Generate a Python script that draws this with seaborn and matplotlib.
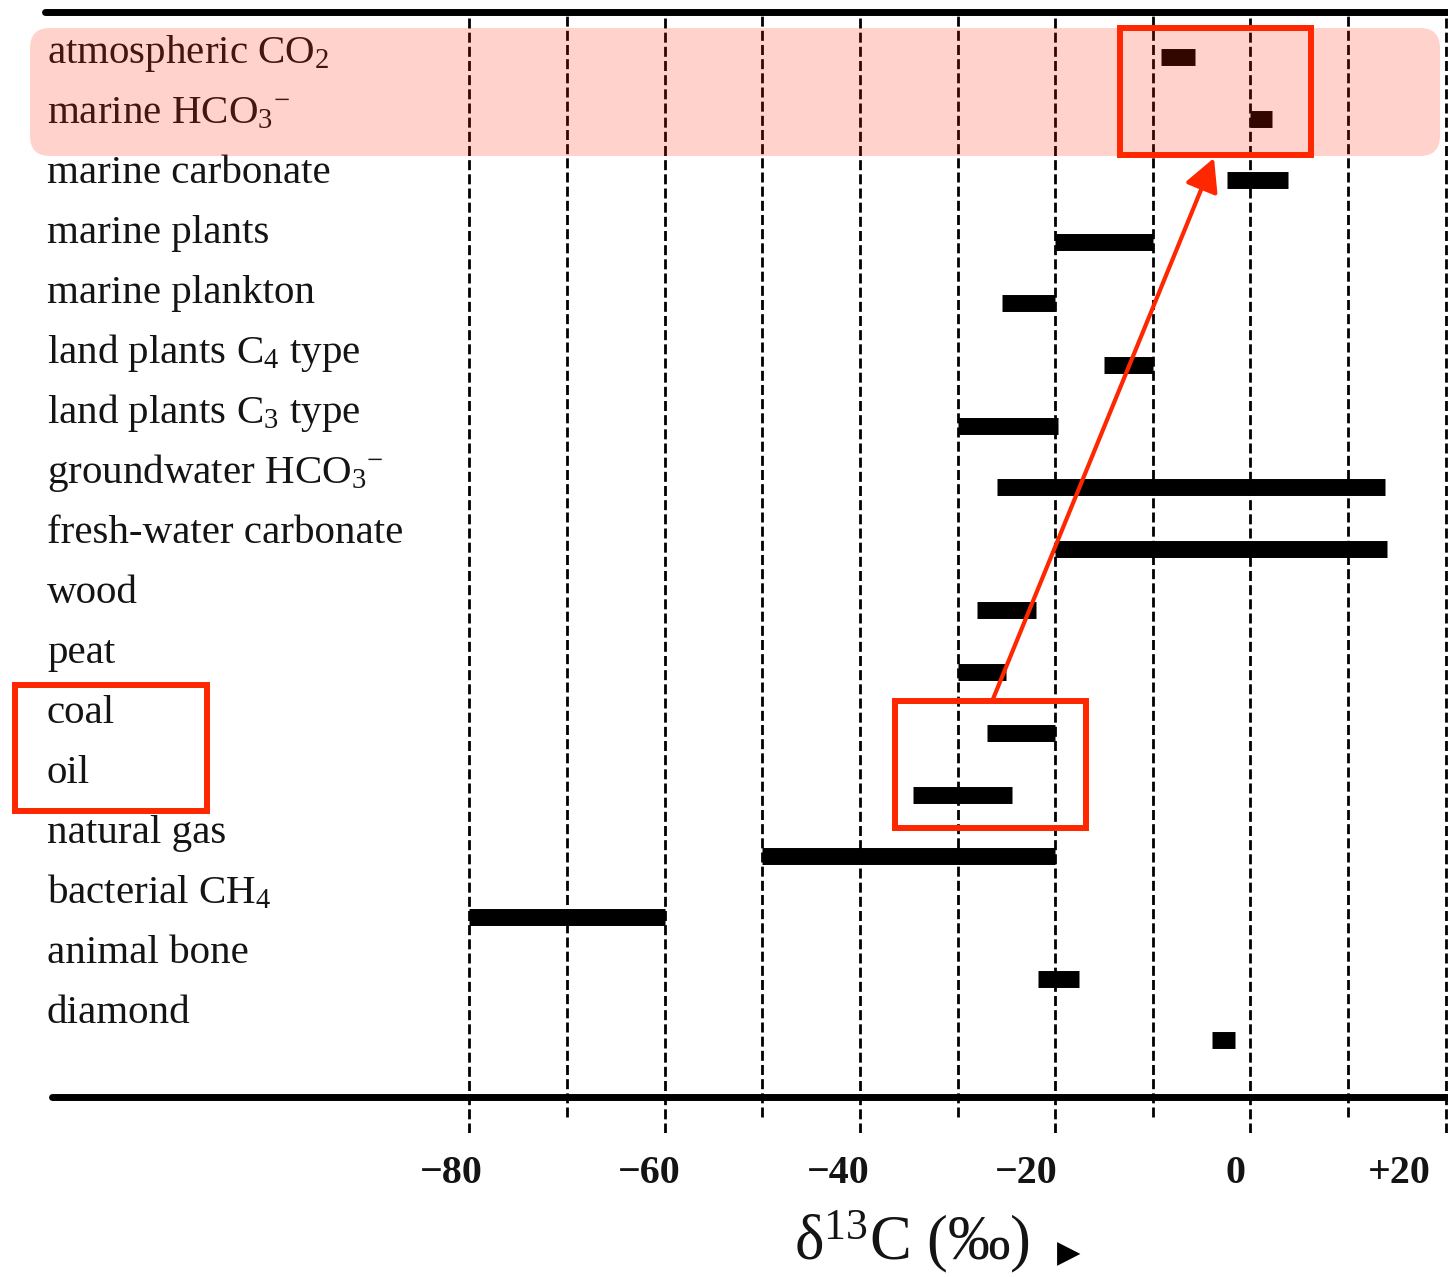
import numpy as np
import pandas as pd
import matplotlib
matplotlib.use("Agg")
import matplotlib.pyplot as plt
import matplotlib.transforms as mtransforms
from matplotlib.patches import FancyBboxPatch, Rectangle, FancyArrowPatch
from matplotlib.lines import Line2D
import seaborn as sns

# ---------------- data ----------------
categories = [
    "atmospheric CO$_\\mathrm{2}$",
    "marine HCO$_\\mathrm{3}$$^{\\mathrm{-}}$",
    "marine carbonate",
    "marine plants",
    "marine plankton",
    "land plants C$_\\mathrm{4}$ type",
    "land plants C$_\\mathrm{3}$ type",
    "groundwater HCO$_\\mathrm{3}$$^{\\mathrm{-}}$",
    "fresh-water carbonate",
    "wood",
    "peat",
    "coal",
    "oil",
    "natural gas",
    "bacterial CH$_\\mathrm{4}$",
    "animal bone",
    "diamond",
]
d13c_low = [-9.2, 0.0, -2.4, -20.0, -25.4, -15.0, -30.0, -26.0, -20.0,
            -28.0, -30.0, -27.0, -34.6, -50.0, -80.0, -21.8, -3.9]
d13c_high = [-5.7, 2.2, 3.9, -10.0, -20.0, -10.0, -19.7, 13.8, 14.0,
             -22.0, -25.0, -20.0, -24.4, -20.0, -60.0, -17.6, -1.6]

tick_values = [-80, -60, -40, -20, 0, 20]
tick_labels = ["\u221280", "\u221260", "\u221240", "\u221220", "0", "+20"]
major_grid = [-80, -60, -40, -20, 0, 20]
minor_grid = [-70, -50, -30, -10, 10]
x_label = "\u03b4$^{\\mathrm{13}}$C (\u2030)"

# ---------------- style ----------------
W, H, DPI = 1448, 1277, 100
sns.set_theme(style="white")
plt.rcParams["font.family"] = ["Liberation Serif", "DejaVu Sans"]
plt.rcParams["mathtext.fontset"] = "custom"
plt.rcParams["mathtext.rm"] = "Liberation Serif"
plt.rcParams["mathtext.it"] = "Liberation Serif:italic"
plt.rcParams["mathtext.bf"] = "Liberation Serif:bold"

RED = "#ff2700"
TXT = "#141414"

fig = plt.figure(figsize=(W / DPI, H / DPI), dpi=DPI)
fig.patch.set_facecolor("white")


def P(px, py):
    """top-left pixel -> inches for fig.dpi_scale_trans"""
    return (px / DPI, (H - py) / DPI)


AX_TOP, AX_BOT = 12, 1133
ax = fig.add_axes([0, 1 - AX_BOT / H, 1, (AX_BOT - AX_TOP) / H])
ax.set_facecolor("white")

# long-form table for the range bars
rows = np.arange(len(categories))
df = pd.DataFrame({
    "item": np.repeat(categories, 2),
    "row": np.repeat(rows, 2),
    "d13C": np.column_stack([d13c_low, d13c_high]).ravel(),
})

# dashed reference lines
minor_ymin = (AX_BOT - 1117) / (AX_BOT - AX_TOP)
dash = (0, (3.6, 1.5))
for v in major_grid:
    ax.axvline(v, ymin=0, ymax=1, color="black", lw=2.0, linestyle=dash, zorder=1)
for v in minor_grid:
    ax.axvline(v, ymin=minor_ymin, ymax=1, color="black", lw=2.0, linestyle=dash, zorder=1)

sns.lineplot(data=df, x="d13C", y="row", units="item", estimator=None,
             sort=False, color="black", lw=12.2, solid_capstyle="butt",
             legend=False, ax=ax, zorder=3)

# scales: x px = 1250.4 + 9.763 v ; bar row y px = 57.5 + 61.42 i
ax.set_xlim(-1250.4 / 9.763, (W - 1250.4) / 9.763)
ax.set_ylim((AX_BOT - 57.5) / 61.42, (AX_TOP - 57.5) / 61.42)
ax.set_xlabel("")
ax.set_ylabel("")
ax.set_yticks([])
for s in ax.spines.values():
    s.set_visible(False)
ax.grid(False)

ax.set_xticks(tick_values)
ax.set_xticklabels(tick_labels, fontsize=28.8, fontweight="bold", color=TXT)
ax.tick_params(axis="x", length=0, pad=16)
label_shift_px = [-18, -15, -22, -29, -15, -46]
for lab, sh in zip(ax.get_xticklabels(), label_shift_px):
    lab.set_transform(lab.get_transform() +
                      mtransforms.ScaledTranslation(sh / DPI, 0, fig.dpi_scale_trans))

# top and bottom rules
fig.add_artist(Line2D([45 / W, 1], [1 - 11.5 / H] * 2, lw=5.0, color="black",
                      transform=fig.transFigure, zorder=4))
fig.add_artist(Line2D([52 / W, 1], [1 - 1097 / H] * 2, lw=5.0, color="black",
                      transform=fig.transFigure, zorder=4))

# category labels
for i, name in enumerate(categories):
    fig.text(47 / W, 1 - (63 + 60 * i) / H, name, fontsize=29.5,
             ha="left", va="baseline", color=TXT, zorder=5)

# axis title
fig.text(912 / W, 1 - 1259 / H, x_label, fontsize=45, ha="center",
         va="baseline", color=TXT)
fig.text(1057 / W, 1 - 1262 / H, "\u25B6", fontsize=22, ha="left",
         va="baseline", color="black", family="DejaVu Sans")

# highlight band
x0, y0 = P(30, 156)
band = FancyBboxPatch((x0, y0), (1440 - 30) / DPI, (156 - 28) / DPI,
                      boxstyle="round,pad=0,rounding_size=0.2",
                      transform=fig.dpi_scale_trans, facecolor=RED,
                      edgecolor="none", alpha=0.2, zorder=10)
fig.add_artist(band)

# red frames
for (l, t, r, b) in [(1120, 28, 1311, 155), (15, 685, 207, 811), (895, 701, 1086, 828)]:
    xx, yy = P(l, b)
    fig.add_artist(Rectangle((xx, yy), (r - l) / DPI, (b - t) / DPI, fill=False,
                             edgecolor=RED, lw=4.3, transform=fig.dpi_scale_trans,
                             zorder=11))

arrow = FancyArrowPatch(P(993, 699), P(1214, 158),
                        arrowstyle="-|>,head_length=20,head_width=10.5",
                        mutation_scale=1, lw=3.0, color=RED,
                        shrinkA=0, shrinkB=0, transform=fig.dpi_scale_trans,
                        zorder=12)
fig.add_artist(arrow)

fig.savefig("out.png", dpi=DPI, facecolor="white")
